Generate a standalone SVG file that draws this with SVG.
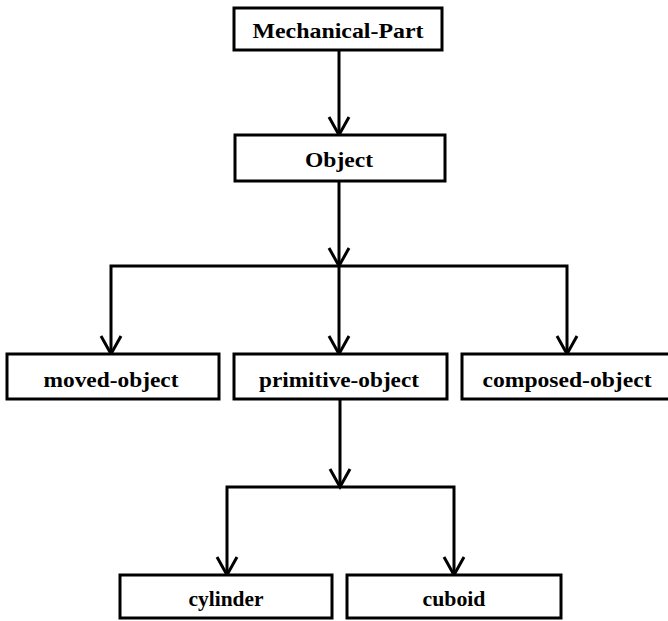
<svg xmlns="http://www.w3.org/2000/svg" width="668" height="621" viewBox="0 0 668 621">
<style>
.box{fill:#fff;stroke:#000;stroke-width:3}
.lbl{font-family:"Liberation Serif","Times New Roman",serif;font-weight:bold;font-size:21px;fill:#000;text-anchor:middle}
.con{fill:none;stroke:#000;stroke-width:3;stroke-linejoin:miter}
</style>
<rect width="668" height="621" fill="#fff"/>
<g id="connectors">
<path class="con" d="M339,50 V135"/>
<path class="con" d="M329,117 L339,135 L349,117"/>
<path class="con" d="M339,181 V266"/>
<path class="con" d="M329,248 L339,266 L349,248"/>
<path class="con" d="M111,354 V266 H567 V354"/>
<path class="con" d="M339,266 V354"/>
<path class="con" d="M101,336 L111,354 L121,336"/>
<path class="con" d="M329,336 L339,354 L349,336"/>
<path class="con" d="M557,336 L567,354 L577,336"/>
<path class="con" d="M340,399 V487"/>
<path class="con" d="M330,469 L340,487 L350,469"/>
<path class="con" d="M227,575 V487 H454 V575"/>
<path class="con" d="M217,557 L227,575 L237,557"/>
<path class="con" d="M444,557 L454,575 L464,557"/>
</g>
<g id="mechanical-part"><rect class="box" x="234" y="8" width="208" height="42"/><text class="lbl" x="338" y="38" textLength="171" lengthAdjust="spacingAndGlyphs">Mechanical-Part</text></g>
<g id="object"><rect class="box" x="235" y="135" width="210" height="46"/><text class="lbl" x="339" y="167" textLength="68" lengthAdjust="spacingAndGlyphs">Object</text></g>
<g id="moved-object"><rect class="box" x="7" y="354" width="212" height="45"/><text class="lbl" x="111" y="387" textLength="135" lengthAdjust="spacingAndGlyphs">moved-object</text></g>
<g id="primitive-object"><rect class="box" x="234" y="354" width="213" height="45"/><text class="lbl" x="339" y="387" textLength="160" lengthAdjust="spacingAndGlyphs">primitive-object</text></g>
<g id="composed-object"><rect class="box" x="462" y="354" width="212" height="45"/><text class="lbl" x="567" y="387" textLength="169" lengthAdjust="spacingAndGlyphs">composed-object</text></g>
<g id="cylinder"><rect class="box" x="120" y="575" width="212" height="43"/><text class="lbl" x="226" y="606" textLength="75" lengthAdjust="spacingAndGlyphs">cylinder</text></g>
<g id="cuboid"><rect class="box" x="347" y="575" width="214" height="43"/><text class="lbl" x="454" y="606" textLength="63" lengthAdjust="spacingAndGlyphs">cuboid</text></g>
</svg>
